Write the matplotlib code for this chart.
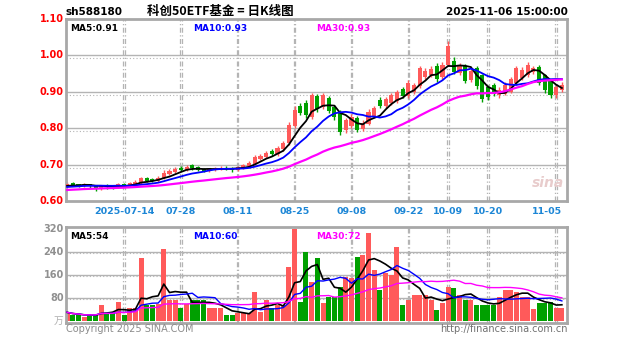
import numpy as np
import pandas as pd
import matplotlib
matplotlib.use("Agg")
import matplotlib.pyplot as plt

plt.rcParams['font.family'] = ['DejaVu Sans', 'Noto Sans CJK SC']

# 日K数据 (2025-06-30 ~ 2025-11-06, 88个交易日)
open_ = [0.640, 0.649, 0.646, 0.641, 0.646, 0.643, 0.636, 0.643, 0.641, 0.638,
         0.647, 0.643, 0.648, 0.650, 0.662, 0.660, 0.655, 0.662, 0.675, 0.680,
         0.692, 0.686, 0.698, 0.693, 0.689, 0.682, 0.685, 0.688, 0.692, 0.690,
         0.686, 0.692, 0.697, 0.703, 0.716, 0.720, 0.738, 0.728, 0.742, 0.758,
         0.805, 0.860, 0.870, 0.832, 0.888, 0.858, 0.882, 0.858, 0.845, 0.795,
         0.805, 0.828, 0.798, 0.812, 0.832, 0.878, 0.860, 0.868, 0.875, 0.908,
         0.888, 0.900, 0.915, 0.940, 0.945, 0.972, 0.940, 0.975, 0.985, 0.952,
         0.970, 0.932, 0.965, 0.945, 0.912, 0.918, 0.890, 0.895, 0.900, 0.925,
         0.938, 0.945, 0.955, 0.968, 0.945, 0.930, 0.890, 0.905]
close = [0.648, 0.644, 0.642, 0.646, 0.641, 0.637, 0.642, 0.638, 0.637, 0.646,
         0.643, 0.649, 0.653, 0.662, 0.656, 0.655, 0.664, 0.678, 0.682, 0.688,
         0.686, 0.694, 0.690, 0.686, 0.683, 0.688, 0.691, 0.692, 0.687, 0.685,
         0.693, 0.699, 0.705, 0.720, 0.724, 0.733, 0.728, 0.745, 0.760, 0.810,
         0.850, 0.842, 0.835, 0.890, 0.852, 0.890, 0.848, 0.830, 0.790, 0.822,
         0.830, 0.796, 0.815, 0.845, 0.856, 0.860, 0.880, 0.890, 0.900, 0.888,
         0.925, 0.918, 0.965, 0.958, 0.962, 0.935, 0.975, 1.025, 0.955, 0.972,
         0.930, 0.958, 0.915, 0.880, 0.885, 0.895, 0.905, 0.920, 0.935, 0.965,
         0.960, 0.975, 0.965, 0.925, 0.905, 0.890, 0.912, 0.920]
high = [0.652, 0.651, 0.648, 0.649, 0.648, 0.645, 0.645, 0.646, 0.644, 0.649,
        0.650, 0.652, 0.657, 0.666, 0.665, 0.663, 0.668, 0.684, 0.688, 0.693,
        0.697, 0.698, 0.702, 0.696, 0.692, 0.692, 0.694, 0.696, 0.695, 0.693,
        0.697, 0.703, 0.709, 0.726, 0.730, 0.738, 0.742, 0.750, 0.766, 0.818,
        0.862, 0.868, 0.878, 0.898, 0.895, 0.897, 0.888, 0.864, 0.850, 0.828,
        0.838, 0.834, 0.822, 0.852, 0.862, 0.885, 0.887, 0.896, 0.906, 0.914,
        0.932, 0.925, 0.972, 0.966, 0.970, 0.978, 0.982, 1.040, 0.995, 0.978,
        0.976, 0.964, 0.970, 0.950, 0.918, 0.924, 0.912, 0.927, 0.942, 0.972,
        0.968, 0.982, 0.972, 0.974, 0.950, 0.935, 0.918, 0.928]
low = [0.637, 0.641, 0.639, 0.638, 0.637, 0.628, 0.630, 0.634, 0.633, 0.635,
       0.640, 0.641, 0.645, 0.648, 0.652, 0.651, 0.653, 0.660, 0.672, 0.677,
       0.682, 0.683, 0.686, 0.682, 0.679, 0.679, 0.682, 0.684, 0.684, 0.681,
       0.683, 0.689, 0.694, 0.700, 0.712, 0.717, 0.724, 0.725, 0.738, 0.755,
       0.800, 0.835, 0.828, 0.826, 0.845, 0.852, 0.842, 0.822, 0.780, 0.786,
       0.800, 0.790, 0.792, 0.808, 0.828, 0.855, 0.855, 0.864, 0.870, 0.882,
       0.884, 0.895, 0.910, 0.935, 0.940, 0.928, 0.935, 0.970, 0.948, 0.946,
       0.924, 0.928, 0.908, 0.872, 0.878, 0.888, 0.884, 0.890, 0.896, 0.920,
       0.932, 0.940, 0.950, 0.918, 0.898, 0.882, 0.884, 0.900]
volume = [30, 22, 20, 14, 20, 22, 55, 28, 28, 66,
          20, 45, 45, 220, 56, 56, 60, 250, 73, 73,
          45, 60, 73, 73, 73, 45, 45, 45, 21, 21,
          28, 28, 28, 100, 30, 73, 45, 56, 56, 188,
          320, 66, 240, 136, 220, 63, 84, 84, 118, 153,
          150, 223, 230, 305, 177, 108, 167, 160, 258, 56,
          73, 90, 90, 90, 73, 38, 63, 118, 115, 90,
          73, 73, 56, 56, 56, 56, 84, 108, 108, 100,
          84, 84, 40, 63, 63, 66, 45, 45]
# 6月30日之前的收盘价, 仅用于计算均线
pre_close = [0.618, 0.620, 0.617, 0.622, 0.625, 0.623, 0.621, 0.624, 0.626, 0.628,
             0.625, 0.627, 0.630, 0.629, 0.627, 0.631, 0.633, 0.630, 0.632, 0.634,
             0.636, 0.633, 0.635, 0.638, 0.636, 0.639, 0.641, 0.638, 0.642]

tick_pos = [10, 20, 30, 40, 50, 60, 67, 74, 86]
tick_labels = ['2025-07-14', '07-28', '08-11', '08-25', '09-08', '09-22', '10-09', '10-20', '11-05']
price_ticks = [0.60, 0.70, 0.80, 0.90, 1.00, 1.10]
vol_ticks = [80, 160, 240, 320]

RED = '#ff5a5a'
GREEN = '#00a000'
GRID = '#b4b4b4'
FRAME = '#a8a8a8'

n = len(close)
x = np.arange(n)
o = np.array(open_)
c = np.array(close)
up = c >= o
colors = [RED if u else GREEN for u in up]

all_close = pd.Series(pre_close + close)
ma5 = all_close.rolling(5, min_periods=1).mean().values[-n:]
ma10 = all_close.rolling(10, min_periods=1).mean().values[-n:]
ma30 = all_close.rolling(30, min_periods=1).mean().values[-n:]
vs = pd.Series(volume)
vma5 = vs.rolling(5, min_periods=1).mean().values
vma10 = vs.rolling(10, min_periods=1).mean().values
vma30 = vs.rolling(30, min_periods=1).mean().values

fig = plt.figure(figsize=(6.27, 3.42), dpi=100)
ax = fig.add_axes([66 / 627, 1 - 201 / 342, 501 / 627, 182 / 342])
axv = fig.add_axes([66 / 627, 1 - 323 / 342, 501 / 627, 96 / 342])

def draw_grid(a, yvals, off):
    for v in yvals:
        a.axhline(v, color=GRID, lw=1.0, zorder=0)
        a.axhline(v - off, color=GRID, lw=0.8, ls=(0, (1, 2)), zorder=0)
    for t in tick_pos:
        for d in (-0.13, 0.13):
            a.axvline(t + d, color=GRID, lw=0.9, ls=(0, (4, 2, 1, 2)), zorder=0)

# K线
draw_grid(ax, [0.70, 0.80, 0.90, 1.00], 0.008)
ax.vlines(x, low, high, colors=colors, lw=1.0, zorder=2)
body_lo = np.minimum(o, c)
body_h = np.maximum(np.abs(c - o), 0.002)
ax.bar(x, body_h, bottom=body_lo, width=0.72, color=colors, zorder=3)
ax.plot(x, ma5, color='black', lw=1.3, zorder=4)
ax.plot(x, ma10, color='#0000ff', lw=1.3, zorder=4)
ax.plot(x, ma30, color='#ff00ff', lw=1.6, zorder=4)
ax.set_xlim(-0.2, 87.9)
ax.set_ylim(0.60, 1.10)
ax.set_xticks([])
ax.set_yticks([])
for s in ax.spines.values():
    s.set_color(FRAME)
    s.set_linewidth(2)

for p in price_ticks:
    ax.text(-0.6, p, f'{p:.2f}', color='red', fontsize=7, fontweight='bold',
            ha='right', va='center', transform=ax.transData)
for t, lab in zip(tick_pos, tick_labels):
    ha = 'right' if t == tick_pos[-1] else 'center'
    xx = t + 1.1 if ha == 'right' else t
    ax.text(xx, 0.571, lab, color='#1c86d6', fontsize=6.8, fontweight='bold',
            ha=ha, va='center')

ax.text(0.008, 0.975, 'MA5:0.91', transform=ax.transAxes, color='black',
        fontsize=6.5, fontweight='bold', va='top')
ax.text(0.254, 0.975, 'MA10:0.93', transform=ax.transAxes, color='#0000ff',
        fontsize=6.5, fontweight='bold', va='top')
ax.text(0.50, 0.975, 'MA30:0.93', transform=ax.transAxes, color='#ff00ff',
        fontsize=6.5, fontweight='bold', va='top')
ax.text(0.995, 0.10, 'sina', transform=ax.transAxes, color='#e8cccc',
        fontsize=10, fontweight='bold', style='italic', ha='right', va='center')

# 成交量
draw_grid(axv, [80, 160, 240], 5)
axv.bar(x, volume, width=0.88, color=colors, zorder=2)
axv.plot(x, vma5, color='black', lw=1.2, zorder=3)
axv.plot(x, vma10, color='#0000ff', lw=1.0, zorder=3)
axv.plot(x, vma30, color='#ff00ff', lw=1.0, zorder=3)
axv.set_xlim(-0.2, 87.9)
axv.set_ylim(-7, 327)
axv.set_xticks([])
axv.set_yticks([])
for s in axv.spines.values():
    s.set_color(FRAME)
    s.set_linewidth(2)
for v in vol_ticks:
    axv.text(-0.6, v, str(v), color='#909090', fontsize=7, fontweight='bold',
             ha='right', va='center')
axv.text(-0.6, 2, '万', color='#b0b0b0', fontsize=7, ha='right', va='center',
         family=['Noto Sans CJK SC', 'DejaVu Sans'])
axv.text(0.008, 0.95, 'MA5:54', transform=axv.transAxes, color='black',
         fontsize=6.5, fontweight='bold', va='top')
axv.text(0.254, 0.95, 'MA10:60', transform=axv.transAxes, color='#0000ff',
         fontsize=6.5, fontweight='bold', va='top')
axv.text(0.50, 0.95, 'MA30:72', transform=axv.transAxes, color='#ff00ff',
         fontsize=6.5, fontweight='bold', va='top')

# 标题和页脚
fig.text(66 / 627, 1 - 12 / 342, 'sh588180', color='black', fontsize=7.5,
         fontweight='bold', va='center')
fig.text(220 / 627, 1 - 12 / 342, '科创50ETF基金 = 日K线图', color='black',
         fontsize=9, fontweight='bold', ha='center', va='center',
         family=['Noto Sans CJK SC', 'DejaVu Sans'])
fig.text(568 / 627, 1 - 12 / 342, '2025-11-06 15:00:00', color='black',
         fontsize=7.5, fontweight='bold', ha='right', va='center')
fig.text(66 / 627, 1 - 329 / 342, 'Copyright 2025 SINA.COM', color='#8c8c8c',
         fontsize=7, va='center')
fig.text(568 / 627, 1 - 329 / 342, 'http://finance.sina.com.cn', color='#707070',
         fontsize=7, ha='right', va='center')

fig.savefig('out.png', dpi=100, facecolor='white')
